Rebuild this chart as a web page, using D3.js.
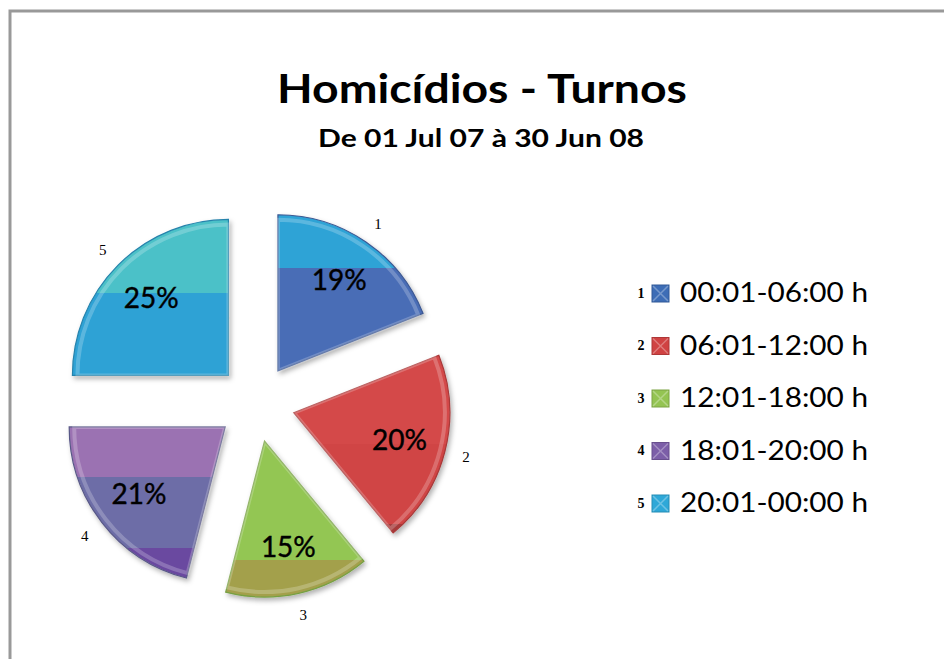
<!DOCTYPE html>
<html>
<head>
<meta charset="utf-8">
<title>Homicidios - Turnos</title>
<script type="text/javascript" src="https://cdn.jsdelivr.net/npm/d3@7"></script>
<style>
  body { margin:0; background:#fff; }
</style>
</head>
<body>
<script type="text/javascript">

// data
var numbers = ["1","2","3","4","5"]
var turnos = ["00:01-06:00 h","06:01-12:00 h","12:01-18:00 h","18:01-20:00 h","20:01-00:00 h"]
var percents = [19, 20, 15, 21, 25]

// colours: [top band, main, bottom band, band stop 1, band stop 2]
var sliceColors = [
  ["#2fa3d6","#4a6db6","#4a6db6",0.34,1],
  ["#d44a4a","#d04545","#a63a3a",0.5,0.95],
  ["#93c653","#93c653","#a3a04c",0.5,0.76],
  ["#9b72b2","#6d6da7","#6b48a0",0.33,0.8],
  ["#4cc1c8","#2fa2d5","#2fa2d5",0.47,1]
]
var legendColors = ["#3d6db6","#d04242","#94c452","#7c5ea8","#2ea8d8"]

var w = 944, h = 659
var svg = d3.select("body").append("svg").attr("width", w).attr("height", h)

// frame
svg.append("rect").attr("x",10).attr("y",11).attr("width",w+20).attr("height",h+20)
  .attr("fill","none").attr("stroke","#999").attr("stroke-width",3)

svg.append("text").attr("x",482).attr("y",103).attr("text-anchor","middle")
  .style("font-family","Lato, 'Open Sans', sans-serif").style("font-weight","bold").style("font-size","40px")
  .attr("textLength",410).attr("lengthAdjust","spacingAndGlyphs")
  .text("Homicídios - Turnos")
svg.append("text").attr("x",481).attr("y",147).attr("text-anchor","middle")
  .style("font-family","Lato, 'Open Sans', sans-serif").style("font-weight","bold").style("font-size","24px")
  .attr("textLength",326).attr("lengthAdjust","spacingAndGlyphs")
  .text("De 01 Jul 07 à 30 Jun 08")

var defs = svg.append("defs")
var shadow = defs.append("filter").attr("id","shadow").attr("x","-20%").attr("y","-20%").attr("width","140%").attr("height","140%")
shadow.append("feDropShadow").attr("dx",2).attr("dy",3).attr("stdDeviation",2.5).attr("flood-color","#000").attr("flood-opacity",0.3)

sliceColors.forEach(function(c, i){
  var g = defs.append("linearGradient").attr("id","grad"+i).attr("x1",0).attr("y1",0).attr("x2",0).attr("y2",1)
  g.append("stop").attr("offset",0).attr("stop-color",c[0])
  g.append("stop").attr("offset",c[3]).attr("stop-color",c[0])
  g.append("stop").attr("offset",c[3]).attr("stop-color",c[1])
  g.append("stop").attr("offset",c[4]).attr("stop-color",c[1])
  g.append("stop").attr("offset",c[4]).attr("stop-color",c[2])
  g.append("stop").attr("offset",1).attr("stop-color",c[2])
})

var cx = 256, cy = 403, R = 156, explode = 39

var pie = d3.pie().sort(null)
var arc = d3.arc().innerRadius(0).outerRadius(R)
var rim = d3.arc().innerRadius(0).outerRadius(R - 5)
var labelArc = d3.arc().innerRadius(R*0.7).outerRadius(R*0.7)
var numArc = d3.arc().innerRadius(R*1.14).outerRadius(R*1.14)

var slices = pie(percents)

var pieG = svg.append("g").attr("transform","translate("+cx+","+cy+")")

var arcs = pieG.selectAll(".slice").data(slices).enter().append("g")
  .attr("class","slice")
  .attr("transform", function(d){
    var a = (d.startAngle + d.endAngle)/2
    return "translate("+(Math.sin(a)*explode)+","+(-Math.cos(a)*explode)+")"
  })

arcs.append("path").attr("d", arc)
  .attr("fill", function(d,i){ return "url(#grad"+i+")" })
  .attr("stroke", function(d,i){ return d3.color(sliceColors[i][1]).darker(0.6) })
  .attr("stroke-width",1.2)
  .attr("filter","url(#shadow)")

// bevel highlight
arcs.append("path").attr("d", rim)
  .attr("fill","none").attr("stroke","#fff").attr("stroke-opacity",0.22).attr("stroke-width",4)

arcs.append("text")
  .attr("transform", function(d){ return "translate("+labelArc.centroid(d)+")" })
  .attr("text-anchor","middle").attr("dy","0.35em")
  .style("font-family","Lato, 'Open Sans', sans-serif").style("font-size","28px")
  .style("stroke","#000").style("stroke-width",0.4)
  .text(function(d,i){ return percents[i] + "%" })

arcs.append("text")
  .attr("transform", function(d){ return "translate("+numArc.centroid(d)+")" })
  .attr("text-anchor","middle").attr("dy","0.35em")
  .style("font-family","'Liberation Serif', serif").style("font-size","15px")
  .text(function(d,i){ return numbers[i] })

// legend
var leg = svg.selectAll(".legend").data(turnos).enter().append("g")
  .attr("class","legend")
  .attr("transform", function(d,i){ return "translate(652,"+(293 + i*52.5)+")" })

leg.append("rect").attr("x",0).attr("y",-8).attr("width",17).attr("height",17)
  .attr("fill", function(d,i){ return legendColors[i] })
  .attr("stroke", function(d,i){ return d3.color(legendColors[i]).darker(0.5) })
leg.append("path").attr("d","M1,-7L16,8M16,-7L1,8")
  .attr("stroke","#fff").attr("stroke-opacity",0.3).attr("stroke-width",1.5)

leg.append("text").attr("x",-11).attr("y",0).attr("dy","0.35em").attr("text-anchor","middle")
  .style("font-family","'Liberation Serif', serif").style("font-size","14px").style("font-weight","bold")
  .text(function(d,i){ return numbers[i] })

leg.append("text").attr("x",28).attr("y",0).attr("dy","0.35em")
  .style("font-family","Lato, 'Open Sans', sans-serif").style("font-size","26px")
  .attr("textLength",188).attr("lengthAdjust","spacingAndGlyphs")
  .text(function(d){ return d })

</script>
</body>
</html>
